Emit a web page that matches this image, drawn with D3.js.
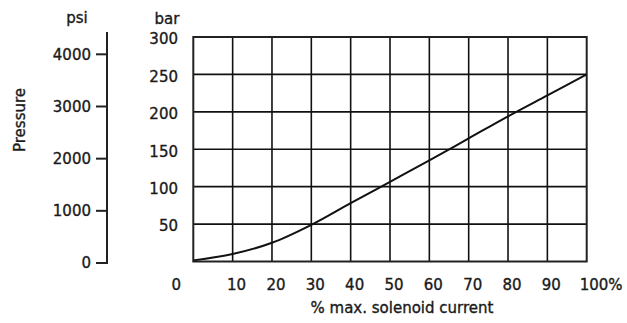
<!DOCTYPE html>
<html>
<head>
<meta charset="utf-8">
<script src="https://cdn.jsdelivr.net/npm/d3@7"></script>
<style>
  html, body { margin: 0; padding: 0; background: #fff; }
  svg { display: block; }
  text { font-family: "DejaVu Sans", sans-serif; font-size: 15px; fill: #1a1a1a; stroke: #1a1a1a; stroke-width: 0.35px; }
</style>
</head>
<body>
<svg id="chart" width="627" height="323"></svg>
<script>
// Solenoid current (% of max) vs. pressure (bar)
const currentPct = [0, 10, 20, 30, 40, 50, 60, 70, 80, 90, 100];
const pressureBar = [1.5, 10, 25, 49, 78, 106.5, 135, 164.5, 194, 222, 250];

const xTicks = [0, 10, 20, 30, 40, 50, 60, 70, 80, 90, 100];
const xTickLabels = ["0", "10", "20", "30", "40", "50", "60", "70", "80", "90", "100%"];
const barTicks = [50, 100, 150, 200, 250, 300];
const psiTicks = [0, 1000, 2000, 3000, 4000];

const PSI_PER_BAR = 14.5038;

const svg = d3.select("#chart");

const x = d3.scaleLinear().domain([0, 100]).range([193.3, 586.7]);
const y = d3.scaleLinear().domain([0, 300]).range([261.5, 37]);
const yPsi = d3.scaleLinear().domain([0, 300 * PSI_PER_BAR]).range([263, 36]);

// grid
const grid = svg.append("g");
grid.selectAll("line.v").data(xTicks.slice(1, -1)).join("line")
  .attr("x1", d => x(d)).attr("x2", d => x(d))
  .attr("y1", y(0)).attr("y2", y(300))
  .attr("stroke", "#111").attr("stroke-width", 1.6);
grid.selectAll("line.h").data(barTicks.slice(0, -1)).join("line")
  .attr("x1", x(0)).attr("x2", x(100))
  .attr("y1", d => y(d)).attr("y2", d => y(d))
  .attr("stroke", "#111").attr("stroke-width", 1.6);

// frame
svg.append("rect")
  .attr("x", x(0)).attr("y", y(300))
  .attr("width", x(100) - x(0)).attr("height", y(0) - y(300))
  .attr("fill", "none").attr("stroke", "#222").attr("stroke-width", 2);

// curve
const line = d3.line()
  .x((d, i) => x(currentPct[i]))
  .y(d => y(d))
  .curve(d3.curveCatmullRom.alpha(0.5));
svg.append("path")
  .datum(pressureBar)
  .attr("d", line)
  .attr("fill", "none")
  .attr("stroke", "#111")
  .attr("stroke-width", 2);

// bar tick labels
svg.append("g").selectAll("text").data(barTicks).join("text")
  .attr("x", 178).attr("y", d => y(d) + 2)
  .attr("dy", "0.35em")
  .attr("text-anchor", "end")
  .text(d => d);

// x tick labels
svg.append("g").selectAll("text").data(xTicks).join("text")
  .attr("x", (d, i) => i === 0 ? x(d) - 17 : (i === xTicks.length - 1 ? x(d) - 7 : x(d) + 4))
  .attr("y", 290)
  .attr("text-anchor", (d, i) => i === xTicks.length - 1 ? "start" : "middle")
  .text((d, i) => xTickLabels[i]);

// psi axis
const psiAxis = svg.append("g");
psiAxis.append("line")
  .attr("x1", 107).attr("x2", 107)
  .attr("y1", 32).attr("y2", yPsi(0))
  .attr("stroke", "#222").attr("stroke-width", 2);
psiAxis.selectAll("line.tick").data(psiTicks).join("line")
  .attr("class", "tick")
  .attr("x1", 96).attr("x2", 108)
  .attr("y1", d => yPsi(d)).attr("y2", d => yPsi(d))
  .attr("stroke", "#222").attr("stroke-width", 2);
psiAxis.selectAll("text").data(psiTicks).join("text")
  .attr("x", 91).attr("y", d => yPsi(d))
  .attr("dy", "0.35em")
  .attr("text-anchor", "end")
  .text(d => d);

// unit labels and titles
svg.append("text").attr("x", 77).attr("y", 23).attr("text-anchor", "middle").text("psi");
svg.append("text").attr("x", 167).attr("y", 24).attr("text-anchor", "middle").text("bar");
svg.append("text")
  .attr("transform", "translate(25,120) rotate(-90)")
  .attr("text-anchor", "middle")
  .text("Pressure");
svg.append("text").attr("x", 402).attr("y", 313).attr("text-anchor", "middle")
  .text("% max. solenoid current");
</script>
</body>
</html>
